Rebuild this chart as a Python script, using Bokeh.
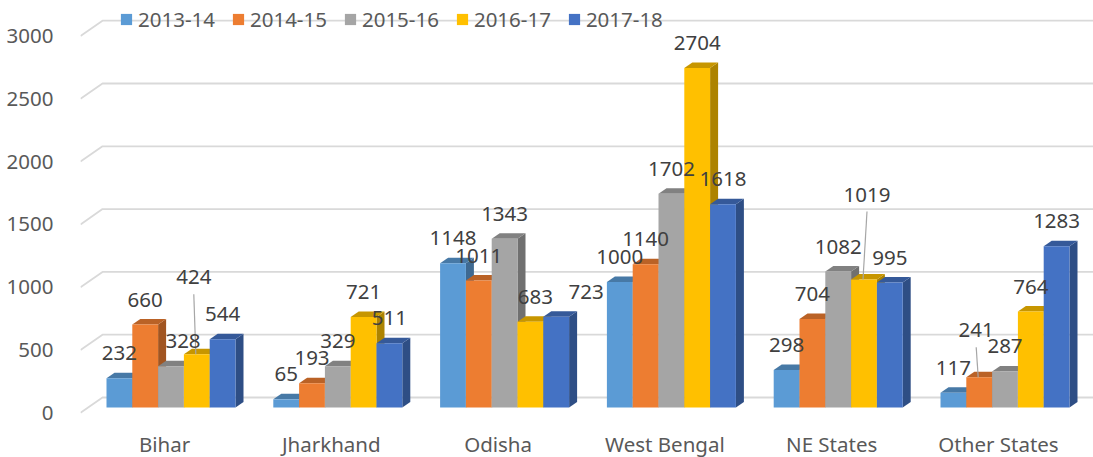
from bokeh.plotting import figure
from bokeh.models import Range1d, LinearAxis, FixedTicker, Legend, LegendItem
from bokeh.embed import file_html
from bokeh.resources import INLINE
from bokeh.core.properties import value

# ---------------- data ----------------
categories = ["Bihar", "Jharkhand", "Odisha", "West Bengal", "NE States", "Other States"]
series_names = ["2013-14", "2014-15", "2015-16", "2016-17", "2017-18"]
v_2013_14 = [232, 65, 1148, 1000, 298, 117]
v_2014_15 = [660, 193, 1011, 1140, 704, 241]
v_2015_16 = [328, 329, 1343, 1702, 1082, 287]
v_2016_17 = [424, 721, 683, 2704, 1019, 764]
v_2017_18 = [544, 511, 723, 1618, 995, 1283]
y_ticks = [0, 500, 1000, 1500, 2000, 2500, 3000]
series_values = [v_2013_14, v_2014_15, v_2015_16, v_2016_17, v_2017_18]

# ---------------- style ----------------
front_colors = ["#5B9BD5", "#ED7D31", "#A5A5A5", "#FFC000", "#4472C4"]
top_colors = ["#4779A6", "#BA6226", "#818181", "#C79600", "#355999"]
side_colors = ["#3E6991", "#A15521", "#707070", "#AD8300", "#2E4E85"]
FONT = "Noto Sans"
FS = "20.5px"

# ---------------- geometry (pixels) ----------------
W, H = 1093, 457
LEFT = 80
kx = 166.8          # px per category
ky = 0.1256         # px per unit
X0 = 164            # canvas x of category 0 (front plane)
Y0 = 412.3          # canvas y of value 0 (front plane)
bar_w_px = 25.8
group_shift_px = 6.5
bar_lift_px = 5.3
depth_dx_px, depth_dy_px = 8.0, 5.5
wall_dx_px, wall_dy_px = 22.0, 15.3
label_gap_px = 25.0

# manual label nudges (cat, series) -> (dx px, up px)
label_nudge = {(0, 2): (12, 0), (0, 3): (-3, 52), (2, 3): (5, 0), (2, 4): (30, 0),
               (4, 3): (3, 60), (5, 1): (-3, 22)}

x_range = Range1d((LEFT - X0) / kx, (W - X0) / kx)
y_range = Range1d(-(H - Y0) / ky, Y0 / ky)

p = figure(width=W, height=H, x_range=x_range, y_range=y_range,
           x_axis_type=None, y_axis_type=None,
           output_backend="svg", toolbar_location=None,
           min_border_left=LEFT, min_border_right=0, min_border_top=0, min_border_bottom=0)
p.outline_line_color = None
p.background_fill_color = "white"
p.border_fill_color = "white"

def dx(px):
    return px / kx

def dy(px):
    return px / ky

# gridlines (front short diagonal, then back wall)
gxs, gys = [], []
for t in y_ticks:
    gxs.append([x_range.start, x_range.start + dx(wall_dx_px), x_range.end])
    gys.append([t, t + dy(wall_dy_px), t + dy(wall_dy_px)])
p.multi_line(gxs, gys, line_color="#D9D9D9", line_width=1.8)

# bars
w = dx(bar_w_px)
d0 = dy(bar_lift_px)
ddx = dx(depth_dx_px)
ddy = dy(depth_dy_px)
front_renderers = []
lab_x, lab_y, lab_t = [], [], []
lead_x0, lead_y0, lead_x1, lead_y1 = [], [], [], []
for j, vals in enumerate(series_values):
    cs = [i + dx(group_shift_px + (j - 2) * bar_w_px) for i in range(len(categories))]
    side_xs, side_ys, top_xs, top_ys = [], [], [], []
    for c, v in zip(cs, vals):
        r = c + w / 2
        l = c - w / 2
        side_xs.append([r, r + ddx, r + ddx, r])
        side_ys.append([d0, d0 + ddy, v + d0 + ddy, v + d0])
        top_xs.append([l, r, r + ddx, l + ddx])
        top_ys.append([v + d0, v + d0, v + d0 + ddy, v + d0 + ddy])
    p.patches(side_xs, side_ys, fill_color=side_colors[j], line_color=None)
    p.patches(top_xs, top_ys, fill_color=top_colors[j], line_color=None)
    fr = p.vbar(x=cs, width=w, bottom=d0, top=[v + d0 for v in vals],
                fill_color=front_colors[j], line_color=None)
    front_renderers.append(fr)
    for i, (c, v) in enumerate(zip(cs, vals)):
        ndx, nup = label_nudge.get((i, j), (0, 0))
        lx = c + dx(ndx)
        ly = v + d0 + dy(label_gap_px + nup)
        lab_x.append(lx)
        lab_y.append(ly)
        lab_t.append(str(v))
        if nup > 15:
            lead_x0.append(lx)
            lead_y0.append(ly - dy(17))
            lead_x1.append(c - dx(1))
            lead_y1.append(v + d0)

p.segment(lead_x0, lead_y0, lead_x1, lead_y1, line_color="#A6A6A6", line_width=1.2)
p.text(lab_x, lab_y, text=lab_t, text_font=value(FONT), text_font_size=FS,
       text_color="#404040", text_align="center", text_baseline="middle")

# axes
yaxis = LinearAxis(ticker=FixedTicker(ticks=y_ticks))
yaxis.axis_line_color = None
yaxis.major_tick_line_color = None
yaxis.minor_tick_line_color = None
yaxis.major_label_standoff = 21
yaxis.major_label_text_font = FONT
yaxis.major_label_text_font_size = FS
yaxis.major_label_text_color = "#595959"
p.add_layout(yaxis, "left")

xaxis = LinearAxis(ticker=FixedTicker(ticks=list(range(len(categories)))),
                   major_label_overrides={i: c for i, c in enumerate(categories)},
                   fixed_location=0)
xaxis.axis_line_color = None
xaxis.major_tick_line_color = None
xaxis.minor_tick_line_color = None
xaxis.major_label_standoff = 11
xaxis.major_label_text_font = FONT
xaxis.major_label_text_font_size = FS
xaxis.major_label_text_color = "#595959"
p.add_layout(xaxis, "below")

legend = Legend(items=[LegendItem(label=s, renderers=[r]) for s, r in zip(series_names, front_renderers)],
                orientation="horizontal", location=(39, 424.5),
                glyph_width=14, glyph_height=14, label_standoff=5, spacing=16,
                padding=0, margin=0, border_line_color=None, background_fill_alpha=0,
                label_text_font=FONT, label_text_font_size=FS, label_text_color="#595959")
p.add_layout(legend)

open("out.html", "w").write(file_html(p, INLINE))
